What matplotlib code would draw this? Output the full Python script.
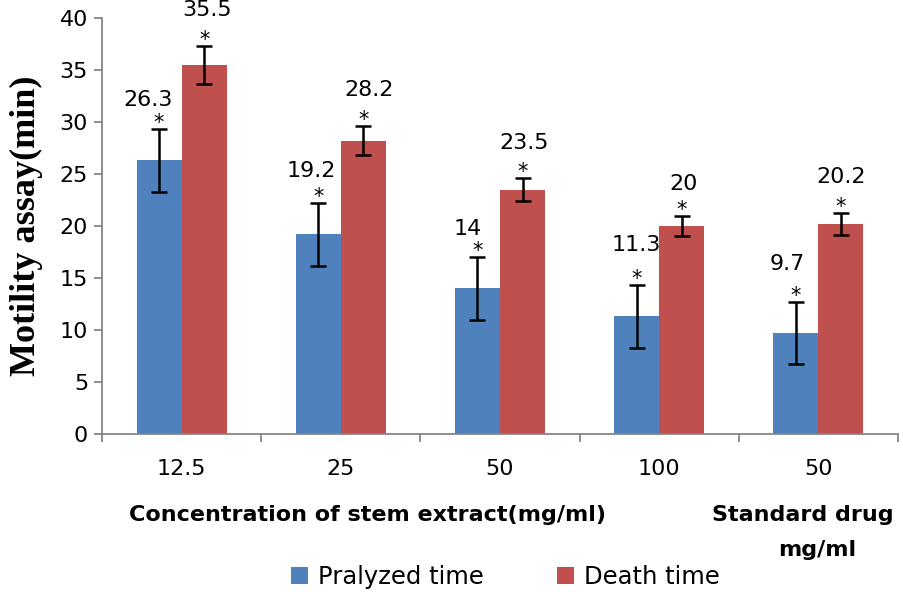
import numpy as np
import matplotlib.pyplot as plt

# data
categories = ["12.5", "25", "50", "100", "50"]
pralyzed = [26.3, 19.2, 14, 11.3, 9.7]
pralyzed_err = [3.0, 3.0, 3.0, 3.0, 3.0]
death = [35.5, 28.2, 23.5, 20, 20.2]
death_err = [1.8, 1.4, 1.1, 1.0, 1.05]
pralyzed_labels = ["26.3", "19.2", "14", "11.3", "9.7"]
death_labels = ["35.5", "28.2", "23.5", "20", "20.2"]

# label offsets above error bar top (points)
pralyzed_dy = [21, 23, 20, 29, 27]
death_dy = [26, 26, 25, 23, 26]
pralyzed_dx = [-8, -5, -7, 0, -6]
death_dx = [2, 4, 1, 1, 0]

blue = "#4F81BD"
red = "#C0504D"
axis_gray = "#868686"

plt.rcParams['font.family'] = ['DejaVu Sans']

fig = plt.figure(figsize=(9.04, 5.92), dpi=100)
ax = fig.add_axes([0.1128, 0.2669, 0.8806, 0.7027])

x = np.arange(len(categories))
w = 0.283

err_kw = dict(ecolor="black", elinewidth=1.8, capsize=6, capthick=1.8)
ax.bar(x - w / 2, pralyzed, w, color=blue, yerr=pralyzed_err, error_kw=err_kw,
       label="Pralyzed time", zorder=2)
ax.bar(x + w / 2, death, w, color=red, yerr=death_err, error_kw=err_kw,
       label="Death time", zorder=2)

for i in range(len(categories)):
    for xc, v, e, lab, dx, dy in [
        (x[i] - w / 2, pralyzed[i], pralyzed_err[i], pralyzed_labels[i], pralyzed_dx[i], pralyzed_dy[i]),
        (x[i] + w / 2, death[i], death_err[i], death_labels[i], death_dx[i], death_dy[i]),
    ]:
        ax.annotate("*", (xc, v + e), xytext=(0, -3), textcoords="offset points",
                    ha="center", va="bottom", fontsize=15)
        ax.annotate(lab, (xc, v + e), xytext=(dx, dy), textcoords="offset points",
                    ha="center", va="center", fontsize=16)

ax.set_xlim(-0.5, len(categories) - 0.5)
ax.set_ylim(0, 40)
ax.set_yticks(np.arange(0, 41, 5))
ax.set_xticks(x)
ax.set_xticklabels(categories)
ax.set_xticks(np.arange(-0.5, len(categories), 1), minor=True)
ax.tick_params(axis="x", which="major", length=0, pad=18, labelsize=16)
ax.tick_params(axis="x", which="minor", length=6, width=1.3, color=axis_gray)
ax.tick_params(axis="y", length=6, width=1.3, color=axis_gray, labelsize=16, pad=4)

for s in ["top", "right"]:
    ax.spines[s].set_visible(False)
for s in ["left", "bottom"]:
    ax.spines[s].set_color(axis_gray)
    ax.spines[s].set_linewidth(1.3)

ax.set_ylabel("Motility assay(min)", fontsize=26, fontweight="bold",
              family="Liberation Serif", labelpad=12)

fig.text(0.406, 0.13, "Concentration of stem extract(mg/ml)", ha="center",
         va="center", fontsize=16, fontweight="bold")
fig.text(0.888, 0.13, "Standard drug", ha="center", va="center",
         fontsize=16, fontweight="bold")
fig.text(0.904, 0.071, "mg/ml", ha="center", va="center",
         fontsize=16, fontweight="bold")

fig.legend(loc="lower center", bbox_to_anchor=(0.559, -0.032), ncol=2, frameon=False,
           fontsize=17.5, handlelength=0.7, handleheight=0.7, handletextpad=0.4,
           columnspacing=3.0)

fig.savefig("out.png", dpi=100)
